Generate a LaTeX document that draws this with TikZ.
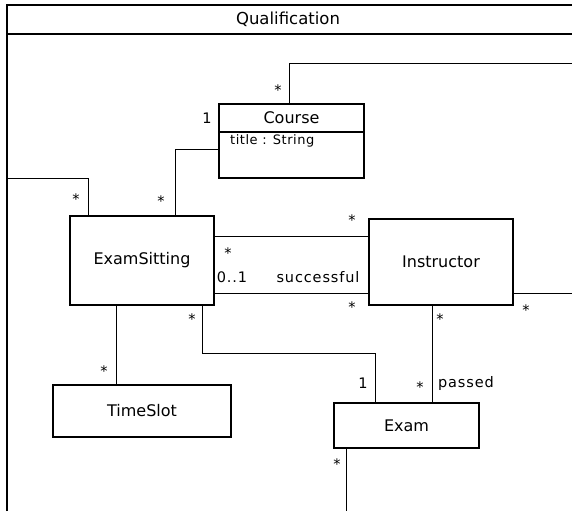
\documentclass[tikz,border=0pt]{standalone}
\usepackage{fontspec}
\setmainfont{DejaVu Sans}
\usetikzlibrary{positioning}
\begin{document}
\begin{tikzpicture}[x=1pt,y=-1pt,
    classbox/.style={draw,line width=1.1pt,inner sep=0pt,font=\fontsize{16}{18}\selectfont},
    mult/.style={inner sep=0pt,font=\fontsize{14.5}{16}\selectfont\addfontfeature{LetterSpace=6}},
    assoc/.style={line width=0.6pt}]%
    \useasboundingbox (0,0) rectangle (572,511);
    % package frame
    \draw[line width=1.1pt] (7,511) -- (7,5) -- (572,5);
    \draw[line width=1.1pt] (7,34) -- (572,34);
    \node[font=\fontsize{16.5}{18}\selectfont] (pkg) at (288,19) {Qualification};
    % free ends
    \coordinate (eastA) at (572,63);
    \coordinate (eastB) at (572,293);
    \coordinate (westA) at (7,178);
    \coordinate (southA) at (346,511);
    % classes
    \node[classbox,minimum width=145,minimum height=74] (course) at (291.5,141) {};
    \node[font=\fontsize{16}{18}\selectfont] (coursename) at (291.5,118) {Course};
    \draw[line width=1.1pt] ([yshift=9pt]course.west) -- ([yshift=9pt]course.east);
    \node[anchor=west,inner sep=0pt,font=\fontsize{13}{15}\selectfont\addfontfeature{LetterSpace=4}] (title) at (230,141) {title : String};
    \node[classbox,minimum width=144,minimum height=89] (sitting) at (142,260.5) {ExamSitting};
    \node[classbox,minimum width=144,minimum height=86] (instructor) at (441,262) {Instructor};
    \node[classbox,minimum width=178,minimum height=52] (timeslot) at (142,411) {TimeSlot};
    \node[classbox,minimum width=145,minimum height=45] (exam) at (406.5,425.5) {Exam};
    % associations
    \draw[assoc] ([xshift=-2.5pt]course.north) |- (eastA);
    \draw[assoc] ([yshift=-8pt]course.west) -| ([xshift=33pt]sitting.north);
    \draw[assoc] ([xshift=-54pt]sitting.north) |- (westA);
    \draw[assoc] ([yshift=24.5pt]sitting.east) -- ([yshift=24.5pt]sitting.east -| instructor.west);
    \draw[assoc] ([yshift=-32.5pt]sitting.east) -- ([yshift=-32.5pt]sitting.east -| instructor.west);
    \draw[assoc] ([yshift=-31pt]instructor.east) -- (eastB);
    \draw[assoc] ([xshift=-9pt]instructor.south) -- ([xshift=-9pt]instructor.south |- exam.north);
    \draw[assoc] ([xshift=-26pt]sitting.south) -- ([xshift=-26pt]sitting.south |- timeslot.north);
    \draw[assoc] ([xshift=60pt]sitting.south) -- ++(0,48) -| ([xshift=-31.5pt]exam.north);
    \draw[assoc] ([xshift=-60.5pt]exam.south) -- (southA);
    % multiplicities
    \node[mult] at (278,90) {*};
    \node[mult] at (207,118) {1};
    \node[mult] at (161,201) {*};
    \node[mult] at (76,199) {*};
    \node[mult] at (228,253) {*};
    \node[mult] at (352,220) {*};
    \node[mult] at (232,277) {0..1};
    \node[mult] at (318,277) {successful};
    \node[mult] at (352,307) {*};
    \node[mult] at (526,310) {*};
    \node[mult] at (440,319) {*};
    \node[mult] at (420,387) {*};
    \node[mult] at (466,383) {passed};
    \node[mult] at (104,371) {*};
    \node[mult] at (192,319) {*};
    \node[mult] at (363,383) {1};
    \node[mult] at (337,464) {*};
\end{tikzpicture}
\end{document}
